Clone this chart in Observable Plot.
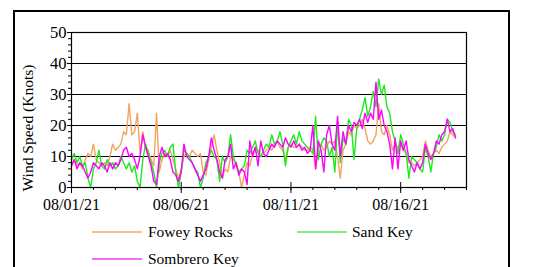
<!DOCTYPE html>
<html>
<head>
<meta charset="utf-8">
<script src="https://cdn.jsdelivr.net/npm/d3@7"></script>
<script src="https://cdn.jsdelivr.net/npm/@observablehq/plot@0.6"></script>
<style>
  html, body { margin: 0; padding: 0; background: #fff; width: 536px; height: 267px; overflow: hidden; }
  body { position: relative; font-family: 'Liberation Serif', 'Times New Roman', serif; }
  #border { position: absolute; left: 13px; top: 10px; width: 497px; height: 300px; box-sizing: border-box; border: 2px solid #000; }
  #chart { position: absolute; left: 0; top: 0; }
  .leg { position: absolute; font-size: 15.5px; color: #000; white-space: nowrap; line-height: 1; font-family: 'Liberation Serif', 'Times New Roman', serif; }
  .sw { position: absolute; height: 2px; width: 50px; }
</style>
</head>
<body>
<div id="border"></div>
<div id="chart"></div>
<div id="legend"></div>
<script>
// ---- data (3-hourly samples starting 08/01/21 00:00) ----
const startDate = "08/01/21";
const stepHours = 3;
const seriesNames = ["Fowey Rocks", "Sand Key", "Sombrero Key"];
const seriesColors = ["#F4A35E", "#1EE81E", "#FF00FF"];
const legendColors = ["#F8BF8C", "#7FF07F", "#F46EF4"];
const foweyRocks = [
  7,9,7,8,6,9,11,10,
  14,9,8,7,8,7,10,14,
  12,13,14,18,17,27,17,18,
  24,11,18,13,12,9,7,24,
  5,9,11,10,12,9,6,3,
  6,10,11,10,12,11,10,11,
  5,4,9,13,17,12,8,3,
  6,5,10,9,8,5,0,4,
  8,7,11,13,12,10,11,12,
  13,12,14,15,13,12,9,13,
  14,13,13,14,13,12,12,13,
  12,6,13,14,12,13,15,14,
  15,10,3,12,14,18,17,20,
  19,20,22,19,15,14,15,17,
  27,18,17,20,17,12,14,13,
  14,12,11,8,8,7,8,9,
  10,15,12,10,11,12,11,13,
  14,15,18,17,16
];
const sandKey = [
  9,11,8,10,7,8,3,0,
  6,8,12,7,6,9,7,8,
  6,7,10,8,6,8,5,7,
  2,0,9,14,11,8,5,0,
  8,11,12,10,13,14,5,0,
  5,12,11,10,8,6,5,0,
  3,8,10,12,10,9,2,10,
  8,10,17,10,7,5,6,7,
  12,11,13,15,11,10,12,14,
  13,17,14,15,18,14,7,13,
  15,17,14,18,15,14,13,12,
  11,23,9,14,16,15,10,13,
  5,21,8,16,14,22,20,9,
  19,22,25,29,23,26,31,26,
  35,30,33,26,24,18,15,11,
  17,14,11,3,10,9,8,6,
  5,13,10,5,11,13,17,15,
  17,22,21,18,17
];
const sombreroKey = [
  7,9,6,8,7,5,3,5,
  8,7,6,8,7,5,8,6,
  8,7,9,12,13,10,11,9,
  6,10,17,13,10,7,2,1,
  10,13,10,11,9,5,4,2,
  5,14,10,9,8,6,4,2,
  4,6,10,16,12,9,5,3,
  9,10,14,6,8,4,6,5,
  1,15,10,13,7,15,11,10,
  12,14,13,15,14,13,16,14,
  13,15,13,14,12,13,11,12,
  20,6,15,12,5,17,20,14,
  12,23,10,18,14,20,18,21,
  20,22,19,24,21,24,22,34,
  22,25,20,18,14,6,16,6,
  15,12,15,9,7,5,8,6,
  8,14,11,9,11,15,14,17,
  18,22,18,19,16
];
const xTickLabels = ["08/01/21", "08/06/21", "08/11/21", "08/16/21"];
const xEndLabel = "08/19/21";
const yTicks = [0, 10, 20, 30, 40, 50];
const yLabel = "Wind Speed (Knots)";

// ---- build ----
const FONT = "'Liberation Serif', 'Times New Roman', serif";
const parse = d3.utcParse("%m/%d/%y");
const t0 = parse(startDate);
const tEnd = parse(xEndLabel);
const allSeries = [foweyRocks, sandKey, sombreroKey];
const tables = allSeries.map((vals, si) => vals.map((v, i) => ({
  date: new Date(+t0 + i * stepHours * 3600e3), value: v, series: seriesNames[si]
})));
const majorDates = xTickLabels.map(parse);
const dailyDates = d3.utcDay.range(t0, new Date(+tEnd + 1));
const yMinor = d3.range(0, 51, 2);

const chart = Plot.plot({
  width: 536,
  height: 215,
  marginLeft: 71,
  marginRight: 70,
  marginTop: 32,
  marginBottom: 28,
  style: { fontFamily: FONT, fontSize: "16px", color: "#000", background: "transparent", overflow: "visible" },
  x: { type: "utc", domain: [t0, tEnd] },
  y: { domain: [0, 50] },
  marks: [
    Plot.ruleY(yTicks.filter(d => d > 0), { stroke: "#000", strokeWidth: 1.2 }),
    ...tables.map((tb, si) => Plot.line(tb, { x: "date", y: "value", stroke: seriesColors[si], strokeWidth: 1.4 })),
    Plot.frame({ stroke: "#000", strokeWidth: 1.2 }),
    Plot.axisY(yMinor, { tickSize: 3, tickFormat: () => "", label: null }),
    Plot.axisY(yTicks, { tickSize: 4, tickPadding: 1, tickFormat: d => String(d), label: null, fontSize: 16.5 }),
    Plot.axisX(dailyDates, { tickSize: 3, tickFormat: () => "", label: null }),
    Plot.axisX(majorDates, { tickSize: 6, tickPadding: 5, tickFormat: (d, i) => xTickLabels[i], label: null, fontSize: 16 }),
    Plot.ruleX(majorDates, { y1: 0, y2: 1.6, stroke: "#000" }),
    Plot.text([yLabel], { frameAnchor: "left", textAnchor: "middle", rotate: -90, dx: -43, dy: 18, fontSize: 15.5, fill: "#000" })
  ]
});
document.getElementById("chart").appendChild(chart);

// legend
const legendPos = [
  { sx: 92, sy: 231, tx: 148, ty: 224 },
  { sx: 297, sy: 231, tx: 352, ty: 224 },
  { sx: 92, sy: 258, tx: 148, ty: 251 }
];
const leg = document.getElementById("legend");
seriesNames.forEach((name, i) => {
  const p = legendPos[i];
  const sw = document.createElement("div");
  sw.className = "sw";
  sw.style.left = p.sx + "px"; sw.style.top = p.sy + "px";
  sw.style.background = legendColors[i];
  leg.appendChild(sw);
  const tx = document.createElement("div");
  tx.className = "leg";
  tx.style.left = p.tx + "px"; tx.style.top = p.ty + "px";
  tx.textContent = name;
  leg.appendChild(tx);
});
</script>
</body>
</html>
